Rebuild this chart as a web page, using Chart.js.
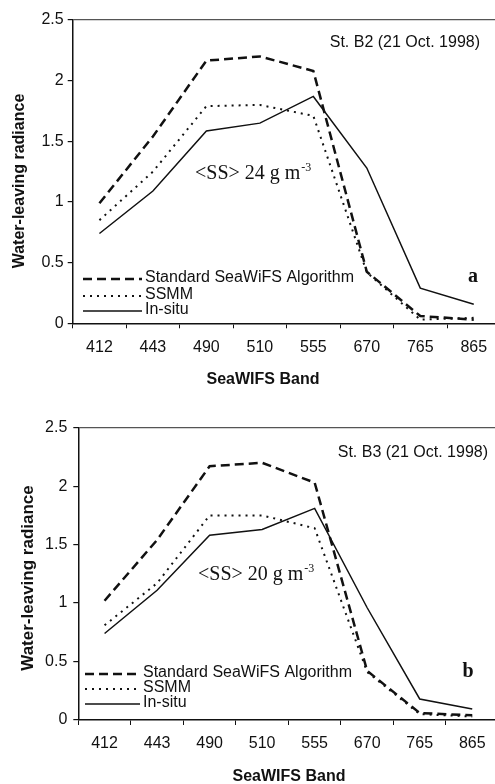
<!DOCTYPE html>
<html>
<head>
<meta charset="utf-8">
<script src="https://cdn.jsdelivr.net/npm/chart.js@4.4.0/dist/chart.umd.min.js"></script>
<style>
  html, body { margin: 0; padding: 0; background: #fff; overflow: hidden; }
  .panel { position: absolute; left: 0; width: 505px; height: 392px; }
</style>
</head>
<body>
<div class="panel" style="top:0"><canvas id="chartB2" width="505" height="392"></canvas></div>
<div class="panel" style="top:392px"><canvas id="chartB3" width="505" height="392"></canvas></div>
<script>
// SeaWiFS bands (x categories)
const bands = ['412', '443', '490', '510', '555', '670', '765', '865'];
const yMin = 0;
const yMax = 2.5;
const yStep = 0.5;

// St. B2 (21 Oct. 1998)
const standardB2 = [0.99, 1.54, 2.165, 2.2, 2.08, 0.425, 0.06, 0.03];
const ssmmB2 = [0.85, 1.25, 1.79, 1.8, 1.71, 0.42, 0.03, 0.045];
const insituB2 = [0.74, 1.09, 1.585, 1.65, 1.87, 1.28, 0.29, 0.157];

// St. B3 (21 Oct. 1998)
const standardB3 = [1.02, 1.54, 2.17, 2.2, 2.03, 0.42, 0.06, 0.04];
const ssmmB3 = [0.81, 1.17, 1.75, 1.75, 1.64, 0.41, 0.05, 0.03];
const insituB3 = [0.74, 1.11, 1.58, 1.63, 1.81, 0.96, 0.18, 0.094];

const seriesNames = ['Standard SeaWiFS Algorithm', 'SSMM', 'In-situ'];
const xTitle = 'SeaWIFS Band';
const yTitle = 'Water-leaving radiance';

const INK = '#111';
const SANS = '"Liberation Sans", Arial, sans-serif';
const SERIF = '"Liberation Serif", "Times New Roman", serif';

// draws the texts and the in-plot legend
const panelText = {
  id: 'panelText',
  afterDraw(chart, args, o) {
    const ctx = chart.ctx;
    ctx.save();
    ctx.fillStyle = INK;
    ctx.textBaseline = 'middle';

    // y title
    ctx.save();
    ctx.translate(o.yTitlePos[0], o.yTitlePos[1]);
    ctx.rotate(-Math.PI / 2);
    ctx.textAlign = 'center';
    ctx.font = 'bold ' + o.yTitleSize + 'px ' + SANS;
    ctx.fillText(yTitle, 0, 0);
    ctx.restore();

    // x title
    ctx.textAlign = 'center';
    ctx.font = 'bold 16px ' + SANS;
    ctx.fillText(xTitle, o.xTitlePos[0], o.xTitlePos[1]);

    // station
    ctx.textAlign = 'right';
    ctx.font = '16px ' + SANS;
    ctx.fillText(o.station, o.stationPos[0], o.stationPos[1]);

    // <SS> text with superscript
    ctx.textAlign = 'left';
    ctx.font = '20px ' + SERIF;
    ctx.fillText(o.ss, o.ssPos[0], o.ssPos[1]);
    const w = ctx.measureText(o.ss).width;
    ctx.font = '12px ' + SERIF;
    ctx.fillText('-3', o.ssPos[0] + w + 1, o.ssPos[1] - 6);

    // panel letter
    ctx.textAlign = 'center';
    ctx.font = 'bold 20px ' + SERIF;
    ctx.fillText(o.letter, o.letterPos[0], o.letterPos[1]);

    // legend
    chart.data.datasets.forEach((ds, i) => {
      const ly = o.legendRows[i];
      ctx.save();
      ctx.strokeStyle = INK;
      ctx.lineWidth = ds.borderWidth;
      ctx.setLineDash(ds.borderDash || []);
      ctx.beginPath();
      ctx.moveTo(o.legendX[0], ly + 1);
      ctx.lineTo(o.legendX[1], ly + 1);
      ctx.stroke();
      ctx.restore();
      ctx.textAlign = 'left';
      ctx.font = '16px ' + SANS;
      ctx.fillText(ds.label, o.legendX[2], ly);
    });
    ctx.restore();
  }
};

function makeChart(id, standard, ssmm, insitu, box, tickSize, yPad, xPad, text) {
  const canvas = document.getElementById(id);
  return new Chart(canvas, {
    type: 'line',
    data: {
      labels: bands,
      datasets: [
        { label: seriesNames[0], data: standard, borderColor: INK, borderWidth: 2.5, borderDash: [9, 5] },
        { label: seriesNames[1], data: ssmm, borderColor: INK, borderWidth: 2, borderDash: [2, 5] },
        { label: seriesNames[2], data: insitu, borderColor: INK, borderWidth: 1.5 }
      ]
    },
    options: {
      responsive: false,
      animation: false,
      devicePixelRatio: 1,
      elements: { point: { radius: 0 }, line: { tension: 0, fill: false } },
      layout: { padding: { top: box.top, right: canvas.width - box.right, left: 0, bottom: 0 } },
      plugins: { legend: { display: false }, tooltip: { enabled: false }, panelText: text },
      scales: {
        x: {
          offset: true,
          grid: { offset: true, drawOnChartArea: false, tickLength: 5, color: INK, lineWidth: 1 },
          border: { display: true, color: INK, width: 1.5 },
          ticks: { color: INK, font: { family: SANS, size: tickSize.x }, padding: xPad, maxRotation: 0 },
          afterFit: (scale) => { scale.height = canvas.height - box.bottom; }
        },
        y: {
          min: yMin,
          max: yMax,
          ticks: {
            stepSize: yStep,
            color: INK,
            font: { family: SANS, size: tickSize.y },
            padding: yPad,
            callback: (v) => String(Number(v))
          },
          grid: {
            tickLength: 5,
            tickColor: INK,
            color: (c) => (c.tick && c.tick.value === yMax ? '#555' : 'rgba(0,0,0,0)'),
            lineWidth: 1.2
          },
          border: { display: true, color: INK, width: 1.5 },
          afterFit: (scale) => { scale.width = box.left; }
        }
      }
    },
    plugins: [panelText]
  });
}

makeChart('chartB2', standardB2, ssmmB2, insituB2,
  { left: 72.7, top: 20, right: 500.5, bottom: 323.3 },
  { x: 16, y: 16 }, 4, 10,
  {
    yTitlePos: [20, 181], yTitleSize: 16,
    xTitlePos: [263, 380],
    station: 'St. B2 (21 Oct. 1998)', stationPos: [480, 43],
    ss: '<SS> 24 g m', ssPos: [195, 174],
    letter: 'a', letterPos: [473, 277],
    legendX: [83, 142, 145], legendRows: [278, 295, 310]
  });

makeChart('chartB3', standardB3, ssmmB3, insituB3,
  { left: 78.3, top: 35.7, right: 498.5, bottom: 328 },
  { x: 16, y: 16 }, 6, 9,
  {
    yTitlePos: [28, 186], yTitleSize: 17,
    xTitlePos: [289, 385],
    station: 'St. B3 (21 Oct. 1998)', stationPos: [488, 61],
    ss: '<SS> 20 g m', ssPos: [198, 183],
    letter: 'b', letterPos: [468, 280],
    legendX: [85, 140, 143], legendRows: [281, 296, 311]
  });
</script>
</body>
</html>
